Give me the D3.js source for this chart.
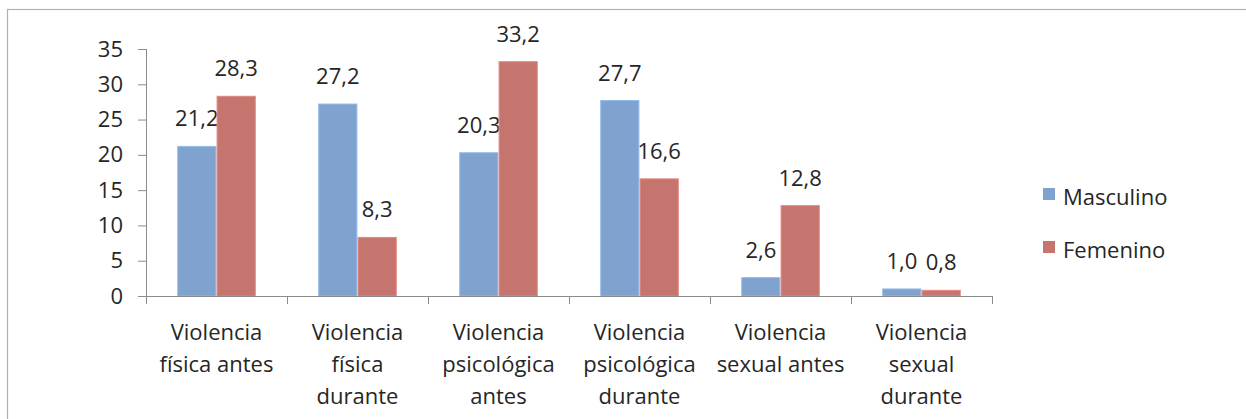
<!DOCTYPE html>
<html>
<head>
<meta charset="utf-8">
<script src="https://cdn.jsdelivr.net/npm/d3@7"></script>
<style>
  html, body { margin: 0; padding: 0; background: #fff; }
  svg { display: block; }
  text { font-family: "Open Sans", "Noto Sans", sans-serif; fill: #262626; }
</style>
</head>
<body>
<script>
const categories = [
  ["Violencia", "física antes"],
  ["Violencia", "física", "durante"],
  ["Violencia", "psicológica", "antes"],
  ["Violencia", "psicológica", "durante"],
  ["Violencia", "sexual antes"],
  ["Violencia", "sexual", "durante"]
];
const seriesNames = ["Masculino", "Femenino"];
const masculino = [21.2, 27.2, 20.3, 27.7, 2.6, 1.0];
const femenino = [28.3, 8.3, 33.2, 16.6, 12.8, 0.8];
const yTicks = [0, 5, 10, 15, 20, 25, 30, 35];
const colors = ["#7FA2CF", "#C6756E"];

const W = 1246, H = 419;
const x0 = 146, x1 = 992, yTop = 49, yBot = 296;

const svg = d3.select("body").append("svg").attr("width", W).attr("height", H);

// green frame
svg.append("rect").attr("x", 7.5).attr("y", 9.5).attr("width", W + 20).attr("height", H + 20)
  .attr("fill", "none").attr("stroke", "#93CB84").attr("stroke-width", 1.2);

const idx = d3.range(categories.length);
const x = d3.scaleBand().domain(idx).range([x0, x1]).paddingInner(0.45).paddingOuter(0.225);
const xs = d3.scaleBand().domain([0, 1]).range([0, x.bandwidth()]).paddingInner(0.03);
const y = d3.scaleLinear().domain([0, 35]).range([yBot, yTop]);

const fmt = v => d3.format(".1f")(v).replace(".", ",");

// y axis
const yAxis = svg.append("g").attr("transform", `translate(${x0},0)`)
  .call(d3.axisLeft(y).tickValues(yTicks).tickSize(8).tickPadding(15).tickFormat(d3.format("d")));
yAxis.select(".domain").remove();
yAxis.selectAll(".tick line").attr("stroke", "#8C8C8C");
yAxis.selectAll(".tick text").attr("font-size", 22).attr("fill", "#262626")
  .attr("font-family", "'Open Sans', sans-serif");
svg.append("line").attr("x1", x0 + 0.5).attr("x2", x0 + 0.5).attr("y1", yTop).attr("y2", yBot + 8)
  .attr("stroke", "#8C8C8C");

// bars
const groups = svg.append("g").selectAll("g").data(idx).join("g")
  .attr("transform", i => `translate(${x(i)},0)`);
[masculino, femenino].forEach((vals, s) => {
  groups.append("rect")
    .attr("x", xs(s)).attr("width", xs.bandwidth())
    .attr("y", i => y(vals[i])).attr("height", i => yBot - y(vals[i]))
    .attr("fill", colors[s])
    .attr("stroke", d3.color(colors[s]).brighter(0.4)).attr("stroke-width", 1);
  groups.append("text")
    .attr("x", xs(s) + xs.bandwidth() / 2).attr("y", i => y(vals[i]) - 20)
    .attr("text-anchor", "middle").attr("font-size", 22)
    .text(i => fmt(vals[i]));
});

// x axis
const stepX = (x1 - x0) / categories.length;
svg.append("line").attr("x1", x0 - 8).attr("x2", x1).attr("y1", yBot + 0.5).attr("y2", yBot + 0.5)
  .attr("stroke", "#8C8C8C");
d3.range(categories.length + 1).forEach(k => {
  const xx = Math.round(x0 + k * stepX) + 0.5;
  svg.append("line").attr("x1", xx).attr("x2", xx).attr("y1", yBot).attr("y2", yBot + 8)
    .attr("stroke", "#8C8C8C");
});
groups.append("text").attr("x", x.bandwidth() / 2).attr("text-anchor", "middle").attr("font-size", 22)
  .each(function(i) {
    const t = d3.select(this);
    categories[i].forEach((line, j) => {
      t.append("tspan").attr("x", x.bandwidth() / 2).attr("y", 340 + j * 32).text(line);
    });
  });

// legend
const leg = svg.append("g");
seriesNames.forEach((name, s) => {
  const ly = 194 + s * 53;
  leg.append("rect").attr("x", 1043).attr("y", ly - 6).attr("width", 12).attr("height", 12)
    .attr("fill", colors[s]);
  leg.append("text").attr("x", 1063).attr("y", ly + 11).attr("font-size", 22).text(name);
});
</script>
</body>
</html>
